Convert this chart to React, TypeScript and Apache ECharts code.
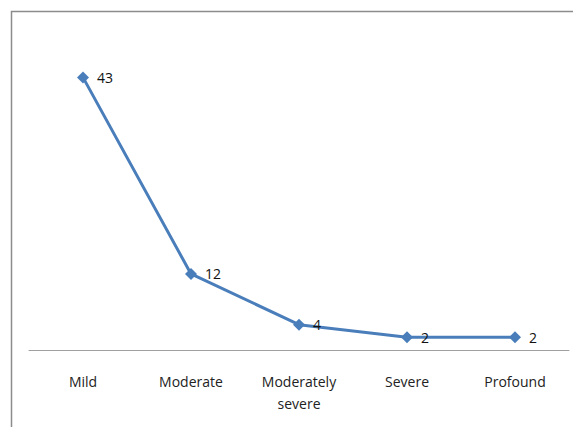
import React, { useEffect, useRef } from "react";
import * as echarts from "echarts";

const categories = ["Mild", "Moderate", "Moderately\nsevere", "Severe", "Profound"];
const values = [43, 12, 4, 2, 2];

export default function App() {
  const ref = useRef<HTMLDivElement>(null);
  useEffect(() => {
    const chart = echarts.init(ref.current!, null, { renderer: "svg" });
    chart.setOption({
      animation: false,
      backgroundColor: "#ffffff",
      textStyle: { fontFamily: "Open Sans" },
      graphic: [
        {
          type: "rect",
          shape: { x: 11.5, y: 11.5, width: 600, height: 500 },
          style: { fill: "none", stroke: "#8c8c8c", lineWidth: 1.5 },
          silent: true,
        },
      ],
      grid: { left: 29, right: 4, top: 33, bottom: 77 },
      xAxis: {
        type: "category",
        data: categories,
        boundaryGap: true,
        axisLine: { lineStyle: { color: "#a0a0a0", width: 1 } },
        axisTick: { show: false },
        axisLabel: {
          color: "#222",
          fontSize: 14,
          margin: 20,
          lineHeight: 22,
          fontFamily: "Open Sans",
        },
      },
      yAxis: {
        type: "value",
        min: 0,
        max: 50,
        show: false,
        splitLine: { show: false },
      },
      series: [
        {
          type: "line",
          data: values,
          symbol: "diamond",
          symbolSize: 12,
          lineStyle: { color: "#4a7ebb", width: 3 },
          itemStyle: { color: "#4a7ebb" },
          label: {
            show: true,
            position: "right",
            distance: 8,
            color: "#111",
            fontSize: 14,
            fontFamily: "Open Sans",
          },
        },
      ],
    });
    return () => chart.dispose();
  }, []);
  return <div ref={ref} style={{ position: "fixed", left: 0, top: 0, width: 573, height: 427 }} />;
}
